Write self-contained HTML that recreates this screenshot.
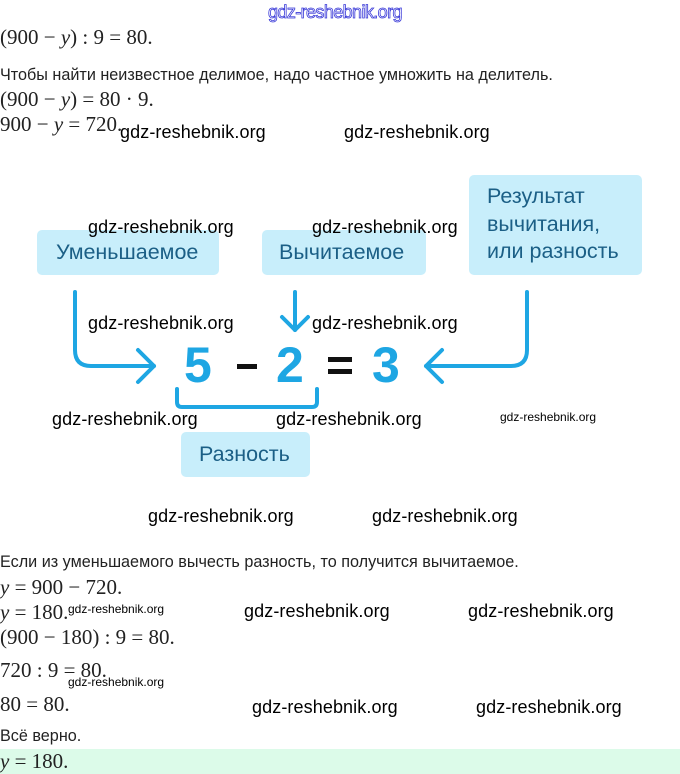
<!DOCTYPE html>
<html><head><meta charset="utf-8"><style>
body{margin:0;width:680px;height:774px;background:#fff;position:relative;overflow:hidden}
.a{position:absolute;white-space:nowrap;line-height:1}
.m{font-family:"Liberation Serif",serif;font-size:21px;color:#222}
.t{font-family:"Liberation Sans",sans-serif;font-size:16.2px;color:#222}
.w{font-family:"Liberation Sans",sans-serif;font-size:18px;color:#000;letter-spacing:0.1px}
.ws{font-family:"Liberation Sans",sans-serif;font-size:12px;color:#000;letter-spacing:0px}
.b{position:absolute;background:#c8eefb;border-radius:5px;font-family:"Liberation Sans",sans-serif;font-size:21.5px;color:#1b5f86}
.n{position:absolute;font-family:"Liberation Sans",sans-serif;font-weight:bold;font-size:50px;line-height:1;color:#1ea6e3}
</style></head><body>
<div class="a" style="left:268px;top:3px;font-family:'Liberation Sans',sans-serif;font-size:18px;color:#fff;-webkit-text-stroke:0.8px #3a3ad8;letter-spacing:-0.6px">gdz-reshebnik.org</div>
<div class="a m" style="left:0;top:27px">(900 − <i>y</i>) : 9 = 80.</div>
<div class="a t" style="left:0;top:67px">Чтобы найти неизвестное делимое, надо частное умножить на делитель.</div>
<div class="a m" style="left:0;top:89px">(900 − <i>y</i>) = 80 · 9.</div>
<div class="a m" style="left:0;top:114px">900 − <i>y</i> = 720.</div>
<div class="a w" style="left:120px;top:123px">gdz-reshebnik.org</div>
<div class="a w" style="left:344px;top:123px">gdz-reshebnik.org</div>

<div class="b" style="left:37px;top:230px;width:182px;height:45px;line-height:45px;text-indent:19px">Уменьшаемое</div>
<div class="b" style="left:262px;top:230px;width:164px;height:45px;line-height:45px;text-indent:17px">Вычитаемое</div>
<div class="b" style="left:469px;top:175px;width:173px;height:100px;line-height:27.5px;padding-top:8px;box-sizing:border-box;padding-left:18px">Результат<br>вычитания,<br>или разность</div>
<div class="b" style="left:181px;top:432px;width:129px;height:45px;line-height:45px;text-indent:18px">Разность</div>

<svg class="a" style="left:0;top:0" width="680" height="774">
<g fill="none" stroke="#1ea6e3" stroke-width="4" stroke-linecap="round" stroke-linejoin="round">
<path d="M75 292 V350 Q75 366 91 366 H154"/>
<path d="M138 350 L154 366 L138 382"/>
<path d="M295 292 V330"/>
<path d="M282 317 L295 330 L308 317"/>
<path d="M527 292 V350 Q527 366 511 366 H426"/>
<path d="M442 350 L426 366 L442 382"/>
<path d="M177 389 V402 Q177 407 182 407 H312 Q317 407 317 402 V389"/>
</g>
<rect x="237" y="364" width="20" height="5" fill="#111"/>
<rect x="328" y="357" width="24" height="5" fill="#111"/>
<rect x="328" y="369" width="24" height="5" fill="#111"/>
</svg>
<div class="n" style="left:184px;top:340px">5</div>
<div class="n" style="left:276px;top:340px">2</div>
<div class="n" style="left:372px;top:340px">3</div>

<div class="a w" style="left:88px;top:218px">gdz-reshebnik.org</div>
<div class="a w" style="left:312px;top:218px">gdz-reshebnik.org</div>
<div class="a w" style="left:88px;top:314px">gdz-reshebnik.org</div>
<div class="a w" style="left:312px;top:314px">gdz-reshebnik.org</div>
<div class="a w" style="left:52px;top:410px">gdz-reshebnik.org</div>
<div class="a w" style="left:276px;top:410px">gdz-reshebnik.org</div>
<div class="a ws" style="left:500px;top:411px">gdz-reshebnik.org</div>
<div class="a w" style="left:148px;top:507px">gdz-reshebnik.org</div>
<div class="a w" style="left:372px;top:507px">gdz-reshebnik.org</div>

<div class="a t" style="left:0;top:554px">Если из уменьшаемого вычесть разность, то получится вычитаемое.</div>
<div class="a m" style="left:0;top:577px"><i>y</i> = 900 − 720.</div>
<div class="a m" style="left:0;top:602px"><i>y</i> = 180.</div>
<div class="a ws" style="left:68px;top:603px">gdz-reshebnik.org</div>
<div class="a w" style="left:244px;top:602px">gdz-reshebnik.org</div>
<div class="a w" style="left:468px;top:602px">gdz-reshebnik.org</div>
<div class="a m" style="left:0;top:627px">(900 − 180) : 9 = 80.</div>
<div class="a m" style="left:0;top:660px">720 : 9 = 80.</div>
<div class="a ws" style="left:68px;top:676px">gdz-reshebnik.org</div>
<div class="a m" style="left:0;top:694px">80 = 80.</div>
<div class="a w" style="left:252px;top:698px">gdz-reshebnik.org</div>
<div class="a w" style="left:476px;top:698px">gdz-reshebnik.org</div>
<div class="a t" style="left:0;top:728px">Всё верно.</div>
<div style="position:absolute;left:0;top:749px;width:680px;height:25px;background:#dcfbe9"></div>
<div class="a m" style="left:0;top:751px"><i>y</i> = 180.</div>
</body></html>
